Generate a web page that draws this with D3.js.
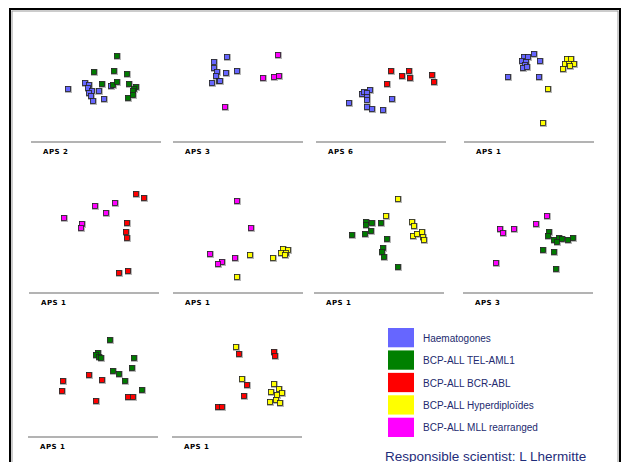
<!DOCTYPE html>
<html>
<head>
<meta charset="utf-8">
<script src="https://cdn.jsdelivr.net/npm/d3@7"></script>
<style>
body{margin:0;background:#fff;}
svg{display:block;}
</style>
</head>
<body>
<svg id="chart"></svg>
<script>
// groups, in legend order
var categories=["Haematogones","BCP-ALL TEL-AML1","BCP-ALL BCR-ABL","BCP-ALL Hyperdiploïdes","BCP-ALL MLL rearranged"];
var colors=["#6666ff","#007a00","#ff0000","#ffff00","#ff00ff"];
var panelLabels=["APS 2","APS 3","APS 6","APS 1","APS 1","APS 1","APS 1","APS 3","APS 1","APS 1"];

// points per panel: [group, x score, y score]
var p1=[[0,37,53],[0,54,59],[0,58,57],[0,57,54],[0,61,51],[0,58,49],[0,68,51],[0,60,46],[0,62,41],[0,73,43],[0,80,56],
        [1,86,86],[1,63,70],[1,83,71],[1,96,68],[1,71,58],[1,82,57],[1,86,60],[1,98,58],[1,105,55],[1,103,53],[1,102,51],[1,102,47],[1,97,44]];
var p2=[[0,54,85],[0,41,80],[0,41,74],[0,44,70],[0,43,66],[0,53,69],[0,64,71],[0,39,59],[0,46,61],[0,47,61],
        [4,105,87],[4,90,64],[4,101,65],[4,106,66],[4,52,35]];
var p3=[[0,54,52],[0,46,48],[0,48,50],[0,51,49],[0,51,45],[0,51,42],[0,33,39],[0,51,35],[0,56,33],[0,67,32],[0,76,43],
        [2,75,71],[2,86,66],[2,93,71],[2,94,64],[2,71,58],[2,116,67],[2,118,60]];
var p4=[[0,70,88],[0,60,85],[0,64,85],[0,58,81],[0,62,80],[0,61,77],[0,59,74],[0,63,75],[0,76,81],[0,44,65],[0,75,65],
        [3,103,83],[3,107,83],[3,101,78],[3,105,78],[3,110,78],[3,106,76],[3,99,73],[3,84,53],[3,79,19]];
var p5=[[2,107,99],[2,115,95],[2,98,70],[2,97,61],[2,98,55],[2,90,20],[2,99,22],
        [4,66,87],[4,86,90],[4,77,80],[4,35,75],[4,53,69],[4,52,65]];
var p6=[[4,64,92],[4,78,65],[4,37,39],[4,49,31],[4,45,29],[4,62,35],
        [3,77,38],[3,64,16],[3,100,35],[3,110,44],[3,115,43],[3,108,40],[3,113,40],[3,112,38]];
var p7=[[1,38,58],[1,52,71],[1,52,68],[1,58,70],[1,67,70],[1,57,62],[1,51,59],[1,73,54],[1,69,45],[1,68,41],[1,70,36],[1,84,26],
        [3,84,94],[3,72,77],[3,98,71],[3,100,67],[3,99,57],[3,103,59],[3,108,61],[3,109,56],[3,110,53]];
var p8=[[4,84,77],[4,73,69],[4,51,64],[4,37,64],[4,40,60],[4,33,30],
        [1,86,61],[1,85,57],[1,91,53],[1,96,55],[1,99,54],[1,94,51],[1,105,53],[1,110,55],[1,80,43],[1,91,41],[1,93,24]];
var p9=[[1,82,97],[1,70,84],[1,68,82],[1,71,80],[1,73,79],[1,106,79],[1,104,69],[1,85,66],[1,91,63],[1,97,56],[1,114,47],
        [2,61,62],[2,74,57],[2,35,56],[2,34,46],[2,68,36],[2,100,40],[2,105,40]];
var p10=[[3,64,90],[3,70,58],[3,102,53],[3,107,48],[3,110,44],[3,99,45],[3,105,42],[3,104,37],[3,98,35],[3,108,34],
         [2,67,83],[2,102,85],[2,103,81],[2,75,52],[2,72,41],[2,46,30],[2,50,30]];
var panels=[p1,p2,p3,p4,p5,p6,p7,p8,p9,p10];

var w=623,h=462;
// where each small plot sits (left of axis line, axis line y)
var lefts=[31,173,316,464,29,173,314,463,28,172];
var bottoms=[142,142,142,142,293,293,293,293,437,437];
var pw=130,ph=110,ms=5;

var svg=d3.select("#chart").attr("width",w).attr("height",h);

// frame
svg.append("rect").attr("x",10).attr("y",9).attr("width",610).attr("height",470)
   .attr("fill","none").attr("stroke","#000").attr("stroke-width",2);
svg.append("rect").attr("x",12).attr("y",11).attr("width",606).attr("height",470)
   .attr("fill","none").attr("stroke","#999").attr("stroke-width",1);

panels.forEach(function(pts,i){
  var xScale=d3.scaleLinear().domain([0,pw]).range([lefts[i],lefts[i]+pw]);
  var yScale=d3.scaleLinear().domain([0,ph]).range([bottoms[i],bottoms[i]-ph]);
  var g=svg.append("g");
  g.append("line")
   .attr("x1",xScale(0)).attr("x2",xScale(pw))
   .attr("y1",yScale(0)).attr("y2",yScale(0))
   .attr("stroke","#b3b3b3").attr("stroke-width",2);
  g.append("text")
   .attr("x",xScale(0)+12).attr("y",yScale(0)+11.5)
   .attr("font-family","DejaVu Sans, sans-serif").attr("font-weight","bold")
   .attr("font-size","7px").attr("letter-spacing","0.5px").attr("fill","#000")
   .text(panelLabels[i]);
  // shadow
  g.selectAll("rect.sh").data(pts).enter().append("rect")
   .attr("class","sh")
   .attr("x",function(d){return xScale(d[1])-ms/2-0.5;})
   .attr("y",function(d){return yScale(d[2])-ms/2-0.5;})
   .attr("width",ms+2).attr("height",ms+2)
   .attr("fill","#b8b8b8");
  g.selectAll("rect.pt").data(pts).enter().append("rect")
   .attr("class","pt")
   .attr("x",function(d){return xScale(d[1])-ms/2;})
   .attr("y",function(d){return yScale(d[2])-ms/2;})
   .attr("width",ms).attr("height",ms)
   .attr("fill",function(d){return colors[d[0]];})
   .attr("stroke","#222").attr("stroke-width",0.8);
});

// legend
var leg=svg.append("g");
var legY=d3.scaleBand().domain(d3.range(categories.length)).range([328,437]).paddingInner(0.14);
leg.selectAll("rect").data(categories).enter().append("rect")
   .attr("x",388).attr("y",function(d,i){return legY(i);})
   .attr("width",26).attr("height",legY.bandwidth())
   .attr("fill",function(d,i){return colors[i]==="#007a00"?"#008000":colors[i];});
leg.selectAll("text").data(categories).enter().append("text")
   .attr("x",423).attr("y",function(d,i){return legY(i)+legY.bandwidth()/2+4;})
   .attr("font-family","Liberation Sans, Arial, sans-serif").attr("font-size","10px")
   .attr("fill","#222a6e")
   .text(function(d){return d;});
svg.append("text")
   .attr("x",385).attr("y",460.5)
   .attr("font-family","Liberation Sans, Arial, sans-serif").attr("font-size","13.5px")
   .attr("fill","#1f2d7a")
   .text("Responsible scientist: L Lhermitte");
</script>
</body>
</html>
